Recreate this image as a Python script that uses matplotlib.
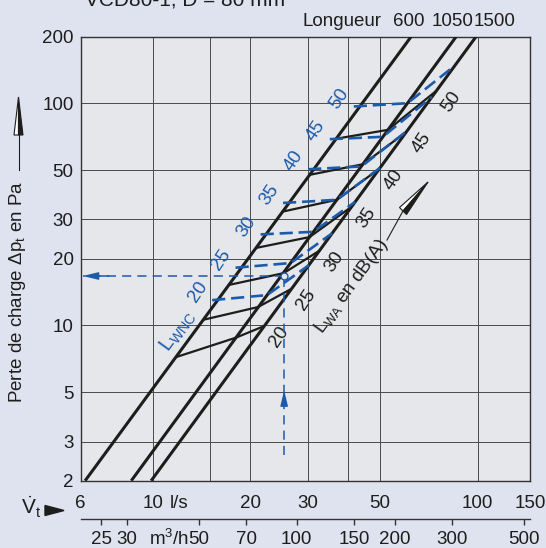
import matplotlib
matplotlib.use('Agg')
import matplotlib.pyplot as plt
from matplotlib.patches import Polygon
from matplotlib.ticker import NullLocator, FixedLocator, NullFormatter
from matplotlib.transforms import blended_transform_factory as btf

plt.rcParams['font.family'] = ['Liberation Sans', 'DejaVu Sans']
plt.rcParams['mathtext.fontset'] = 'custom'
plt.rcParams['mathtext.rm'] = 'Liberation Sans'
plt.rcParams['mathtext.it'] = 'Liberation Sans:italic'
plt.rcParams['mathtext.bf'] = 'Liberation Sans:bold'

# ---------------- data ----------------
flow_ticks = [6, 10, 20, 30, 50, 100]
flow_tick_labels = ['6', '10', '20', '30', '50', '100']
flow_last_label = '150'
m3h_ticks = [25, 30, 50, 70, 100, 150, 200, 300, 500]
m3h_tick_labels = ['25', '30', '50', '70', '100', '150', '200', '300', '500']
dp_ticks = [2, 3, 5, 10, 20, 30, 50, 100, 200]
dp_tick_labels = ['2', '3', '5', '10', '20', '30', '50', '100', '200']
grid_flow = [10, 15, 20, 30, 40, 50, 100]
grid_dp = [3, 5, 10, 20, 30, 50, 100]

length_labels = ['600', '1050', '1500']
len600_flow = [6.2, 62.5]
len600_dp = [2, 200]
len1050_flow = [8.6, 86.0]
len1050_dp = [2, 200]
len1500_flow = [9.9, 99.0]
len1500_dp = [2, 200]

lwa_levels = [20, 25, 30, 35, 40, 45, 50]
lwa_flow = [[11.8, 18.0, 22.1], [14.3, 21.1, 26.7], [17.1, 25.3, 32.6],
            [20.7, 30.4, 40.9], [25.0, 36.9, 49.8], [30.3, 44.4, 60.4],
            [36.5, 53.0, 74.7]]
lwa_dp = [[7.2, 8.8, 9.95], [10.6, 12.1, 14.6], [15.2, 17.2, 21.7],
          [22.3, 25.0, 34.2], [32.5, 36.8, 50.7], [47.6, 53.2, 74.4],
          [69.2, 76.0, 113.9]]

lwnc_levels = [20, 25, 30, 35, 40, 45, 50]
lwnc_flow = [[15.25, 22.5, 30.3], [18.0, 26.6, 35.7], [21.5, 31.2, 42.0],
             [25.2, 36.9, 50.1], [30.1, 43.9, 60.7], [35.1, 51.1, 72.4],
             [41.6, 60.9, 85.0]]
lwnc_dp = [[13.0, 13.7, 18.7], [18.2, 19.1, 26.0], [25.7, 26.4, 36.0],
           [35.6, 36.8, 51.2], [50.5, 52.0, 75.2], [69.0, 70.7, 107.0],
           [96.8, 100.2, 147.6]]

example_flow = 25.4
example_dp = 16.7
example_flow_start = 6.1
example_dp_start = 2.6
example_dp_arrow = 5.1

# ---------------- style ----------------
BG = '#dfe3f0'
PLOT_BG = '#e6e7ea'
BLUE = '#1c5bab'
BLACK = '#1d1d1b'
GRID = '#4a4a4a'
FS = 13.5

W, H = 546, 548
fig = plt.figure(figsize=(W / 100, H / 100), dpi=100, facecolor=BG)


def fx(x):
    return x / W


def fy(y):
    return 1 - y / H


L, R, T, B = 80.5, 530, 36.5, 480.7
ax = fig.add_axes([fx(L), fy(B), (R - L) / W, (B - T) / H])
ax.set_xscale('log')
ax.set_yscale('log')
ax.set_xlim(6, 145)
ax.set_ylim(2, 200)
ax.set_facecolor(PLOT_BG)
for s in ax.spines.values():
    s.set_color('#333333')
    s.set_linewidth(1.0)

ax.xaxis.set_major_locator(NullLocator())
ax.xaxis.set_minor_locator(NullLocator())
ax.yaxis.set_major_locator(FixedLocator(dp_ticks))
ax.yaxis.set_minor_locator(NullLocator())
ax.set_yticklabels(dp_tick_labels)
ax.tick_params(axis='y', length=0, pad=5, labelsize=FS, colors=BLACK)

for v in grid_flow:
    ax.axvline(v, color=GRID, lw=0.7, zorder=1)
for d in grid_dp:
    ax.axhline(d, color=GRID, lw=0.7, zorder=1)

# duct length lines
for fl, dp in [(len600_flow, len600_dp), (len1050_flow, len1050_dp), (len1500_flow, len1500_dp)]:
    ax.plot(fl, dp, color=BLACK, lw=2.2, solid_capstyle='butt', zorder=3)

# L_WA lines
for lev, fl, dp in zip(lwa_levels, lwa_flow, lwa_dp):
    ax.plot(fl, dp, color=BLACK, lw=1.6, zorder=4, solid_capstyle='butt')
    ax.annotate(str(lev), xy=(fl[-1], dp[-1]), xytext=(15, -11), textcoords='offset pixels',
                rotation=56, ha='center', va='center', fontsize=FS, color=BLACK)

# L_WNC lines
for lev, fl, dp in zip(lwnc_levels, lwnc_flow, lwnc_dp):
    ax.plot(fl, dp, color=BLUE, lw=1.9, dashes=(5, 2.2), zorder=5)
    ax.annotate(str(lev), xy=(fl[0], dp[0]), xytext=(-14, 8), textcoords='offset pixels',
                rotation=56, ha='center', va='center', fontsize=FS, color=BLUE)

# example reading
ax.plot([example_flow, example_flow], [example_dp_start, example_dp], color=BLUE, lw=1.1,
        dashes=(6, 4), zorder=6)
ax.plot([example_flow, example_flow_start], [example_dp, example_dp], color=BLUE, lw=1.1,
        dashes=(6, 4), zorder=6)
ax.annotate('', xy=(example_flow, example_dp_arrow), xytext=(example_flow, example_dp_arrow * 0.88),
            arrowprops=dict(arrowstyle='-|>,head_length=0.9,head_width=0.22', color=BLUE, lw=1.1,
                            shrinkA=0, shrinkB=0), zorder=6)
ax.annotate('', xy=(example_flow_start, example_dp), xytext=(example_flow_start * 1.2, example_dp),
            arrowprops=dict(arrowstyle='-|>,head_length=0.9,head_width=0.22', color=BLUE, lw=1.1,
                            shrinkA=0, shrinkB=0), zorder=6)
ax.plot([example_flow], [example_dp], marker='o', ms=5, mfc=PLOT_BG, mec=BLUE, mew=1.0, zorder=7)

# rotated labels
fig.text(fx(178), fy(331), r'$\mathrm{L}_{\mathrm{WNC}}$', rotation=54, ha='center', va='center',
         fontsize=14.5, color=BLUE)
fig.text(fx(352), fy(286), r'$\mathrm{L}_{\mathrm{WA}}$ en dB(A)', rotation=54, ha='center',
         va='center', fontsize=FS, color=BLACK)

# L_WA arrow
fig.add_artist(plt.Line2D([fx(387), fx(403)], [fy(240), fy(211)], color=BLACK, lw=0.8))
fig.add_artist(Polygon([(fx(428), fy(182)), (fx(399.5), fy(207.5)), (fx(403), fy(211))],
                       closed=True, fc='white', ec=BLACK, lw=0.8))
fig.add_artist(Polygon([(fx(428), fy(182)), (fx(406.5), fy(214.5)), (fx(403), fy(211))],
                       closed=True, fc=BLACK, ec=BLACK, lw=0.8))

# x labels (l/s)
trans = btf(ax.transData, ax.transAxes)
y_ls = (B - 503) / (B - T)
for v, lab in zip(flow_ticks, flow_tick_labels):
    ax.text(v, y_ls, lab, transform=trans, ha='center', va='center', fontsize=FS,
            color=BLACK, clip_on=False)
ax.text(1.0, y_ls, flow_last_label, transform=ax.transAxes, ha='center', va='center',
        fontsize=FS, color=BLACK, clip_on=False)
ax.annotate('l/s', xy=(10, y_ls), xycoords=trans, xytext=(17.5, 0), textcoords='offset pixels',
            ha='left', va='center', fontsize=FS, color=BLACK, annotation_clip=False)

# m3/h axis
y_m3 = (B - 519) / (B - T)
sec = ax.secondary_xaxis(y_m3, functions=(lambda v: v * 3.6, lambda m: m / 3.6))
sec.xaxis.set_major_locator(FixedLocator(m3h_ticks))
sec.xaxis.set_minor_locator(NullLocator())
sec.xaxis.set_major_formatter(NullFormatter())
sec.tick_params(axis='x', direction='out', length=4, width=1, colors='#333333')
for s in sec.spines.values():
    s.set_color('#333333')
    s.set_linewidth(1.0)
y_m3l = (B - 539) / (B - T)
for m, lab in zip(m3h_ticks, m3h_tick_labels):
    ax.text(m / 3.6, y_m3l, lab, transform=trans, ha='center', va='center', fontsize=FS,
            color=BLACK, clip_on=False)
ax.annotate('m$^3$/h', xy=(50 / 3.6, y_m3l), xycoords=trans, xytext=(-10, 0),
            textcoords='offset pixels', ha='right', va='center', fontsize=FS, color=BLACK,
            annotation_clip=False)

# V_t label with triangle
fig.text(fx(31), fy(507), r'$\dot{\mathrm{V}}_{\mathrm{t}}$', ha='center', va='center',
         fontsize=15, color=BLACK)
fig.add_artist(Polygon([(fx(45), fy(505.5)), (fx(45), fy(515.5)), (fx(64), fy(510.5))],
                       closed=True, fc=BLACK, ec=BLACK))

# y label and arrow
fig.text(fx(18), fy(292), r'Perte de charge $\Delta \mathrm{p}_{\mathrm{t}}$ en Pa', rotation=90,
         ha='center', va='center', fontsize=FS, color=BLACK)
fig.add_artist(plt.Line2D([fx(18.5), fx(18.5)], [fy(170), fy(135)], color=BLACK, lw=0.8))
fig.add_artist(Polygon([(fx(18.5), fy(97)), (fx(14), fy(135)), (fx(18.5), fy(135))],
                       closed=True, fc='white', ec=BLACK, lw=0.8))
fig.add_artist(Polygon([(fx(18.5), fy(97)), (fx(23), fy(135)), (fx(18.5), fy(135))],
                       closed=True, fc=BLACK, ec=BLACK, lw=0.8))

# Longueur header
fig.text(fx(303), fy(21.5), 'Longueur', ha='left', va='center', fontsize=FS, color=BLACK)
for lab, xc in zip(length_labels, [409, 453, 495]):
    fig.text(fx(xc), fy(21.5), lab, ha='center', va='center', fontsize=FS, color=BLACK)

# clipped title at the very top (only its lower part is visible, as in the source)
fig.text(fx(85), fy(5), 'VCD80-1, D = 80 mm', ha='left', va='baseline', fontsize=15, color=BLACK)

fig.savefig('out.png', dpi=100, facecolor=BG)
